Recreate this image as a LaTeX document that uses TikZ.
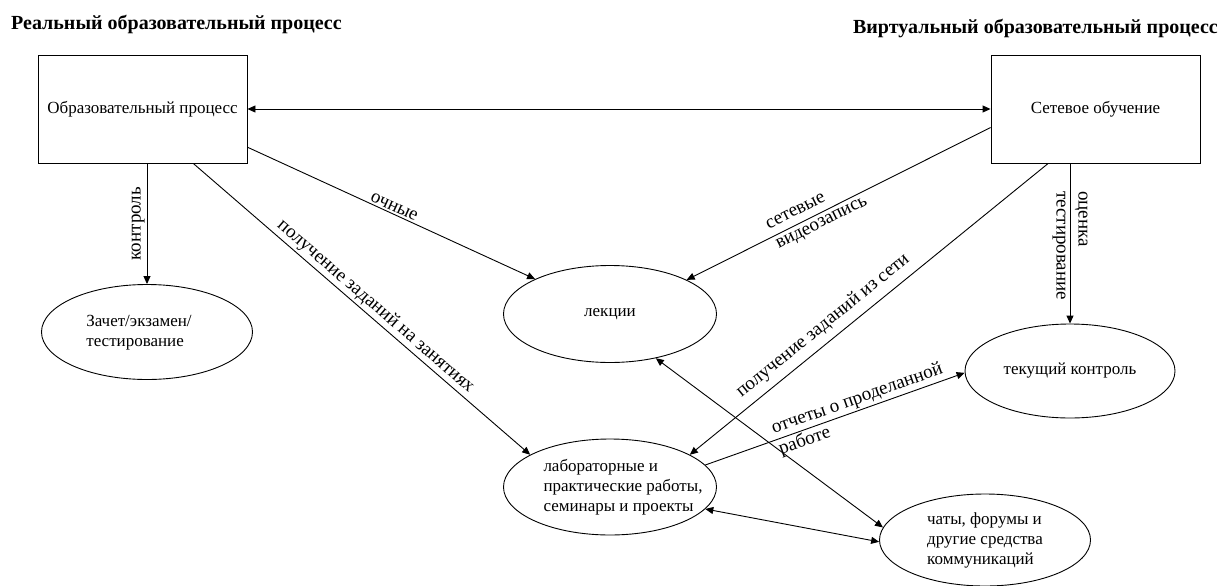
\documentclass[tikz,border=0pt]{standalone}
\usepackage{fontspec}
\setmainfont{Liberation Serif}
\usetikzlibrary{arrows.meta,shapes.geometric,calc}

\tikzset{
  base/.style={font=\rmfamily\fontsize{17}{20}\selectfont},
  procbox/.style={base, draw, line width=0.9pt, rectangle, minimum width=209pt, minimum height=108pt, inner sep=2pt},
  oval/.style={base, draw, line width=0.9pt, ellipse, inner sep=-30pt},
  title/.style={font=\rmfamily\bfseries\fontsize{20}{23}\selectfont, inner sep=0pt},
  link/.style={line width=0.9pt, -{Triangle[length=8pt,width=7pt]}},
  twoway/.style={line width=0.9pt, {Triangle[length=8pt,width=7pt]}-{Triangle[length=8pt,width=7pt]}},
  backlink/.style={line width=0.9pt, {Triangle[length=8pt,width=7pt]}-},
  lbl/.style={font=\rmfamily\fontsize{19}{22}\selectfont, inner sep=2pt}
}

\begin{document}
\begin{tikzpicture}[x=1pt,y=-1pt]
\useasboundingbox (0,0) rectangle (1223,586);

% headings
\node[title, anchor=west] (hreal) at (11,24) {Реальный образовательный процесс};
\node[title, anchor=east] (hvirt) at (1218,29) {Виртуальный образовательный процесс};

% two processes
\node[procbox] (real) at (142.5,109) {Образовательный процесс};
\node[procbox] (net) at (1095.5,109) {Сетевое обучение};

% activities
\node[oval, minimum width=211pt, minimum height=95pt] (exam) at (147,332)
  {\begin{tabular}{@{}l@{}}Зачет/экзамен/\\тестирование\end{tabular}\hspace*{16pt}};
\node[oval, minimum width=213pt, minimum height=97pt] (lect) at (610,314) {лекции};
\node[oval, minimum width=213pt, minimum height=96pt] (lab) at (610,487)
  {\hspace*{26pt}\begin{tabular}{@{}l@{}}лабораторные и\\практические работы,\\семинары и проекты\end{tabular}};
\node[oval, minimum width=210pt, minimum height=94pt] (cur) at (1070,371) {текущий контроль};
\node[oval, minimum width=211pt, minimum height=92pt] (chat) at (985,540)
  {\begin{tabular}{@{}l@{}}чаты, форумы и\\другие средства\\коммуникаций\end{tabular}};

% connectors
\draw[twoway] (real.east) -- (net.west);

\draw[link] (exam.north |- real.south) --
  node[lbl, midway, anchor=south, rotate=90] {контроль} (exam.north);

\draw[link] (cur.north |- net.south) --
  node[lbl, pos=0.17, anchor=west, rotate=-90, align=left, inner sep=0pt] {оценка\\тестирование} (cur.north);

\draw[link] (real.-20.5) -- node[lbl, sloped, above, pos=0.5] {очные} (lect.155);

\draw[link] (real.-47.4) --
  node[lbl, sloped, above, pos=0.52] {получение заданий на занятиях} (lab.158.7);

\draw[backlink] (lect.24.8) --
  node[lbl, sloped, pos=0.43, align=left, inner sep=0pt] {сетевые\\видеозапись} (net.-170.2);

\draw[backlink] (lab.22.6) --
  node[lbl, sloped, above=5pt, pos=0.40] {получение заданий из сети} (net.-131.5);

\draw[link] (lab.13.8) --
  node[lbl, sloped, pos=0.6, align=left, inner sep=0pt] {отчеты о проделанной\\работе} (cur.181);

\draw[twoway] (lect.-44.4) -- (chat.173);
\draw[twoway] (lab.-13.8) -- (chat.181.6);
\end{tikzpicture}
\end{document}
